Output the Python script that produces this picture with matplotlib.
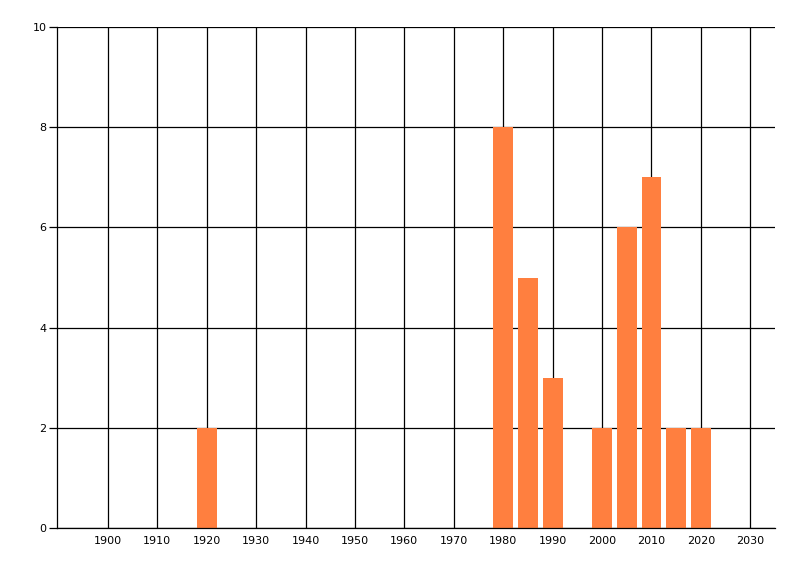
import matplotlib
matplotlib.use('Agg')
from matplotlib import pyplot as plt

# Count per year
years = [1920, 1980, 1985, 1990, 2000, 2005, 2010, 2015, 2020]
counts = [2, 8, 5, 3, 2, 6, 7, 2, 2]

xticks = list(range(1900, 2031, 10))
yticks = [0, 2, 4, 6, 8, 10]

fig = plt.figure(figsize=(8, 5.76), dpi=100)
ax = fig.add_axes([57 / 800, 1 - 528 / 576, 718 / 800, 501 / 576])

ax.bar(years, counts, width=4, color='#FF7F3F', zorder=3)

ax.set_xlim(1889.7, 2035)
ax.set_ylim(0, 10)
ax.set_xticks(xticks)
ax.set_yticks(yticks)

# Black grid, drawn under the bars
ax.grid(True, color='black', linewidth=0.9, zorder=0)
ax.set_axisbelow(True)

for side in ['top', 'right']:
    ax.spines[side].set_visible(False)
for side in ['left', 'bottom']:
    ax.spines[side].set_linewidth(0.9)
    ax.spines[side].set_zorder(4)

ax.tick_params(axis='y', length=5.5, width=0.9, labelsize=8, pad=2)
ax.tick_params(axis='x', length=0, labelsize=8, pad=6)

plt.savefig('out.png', dpi=100)
